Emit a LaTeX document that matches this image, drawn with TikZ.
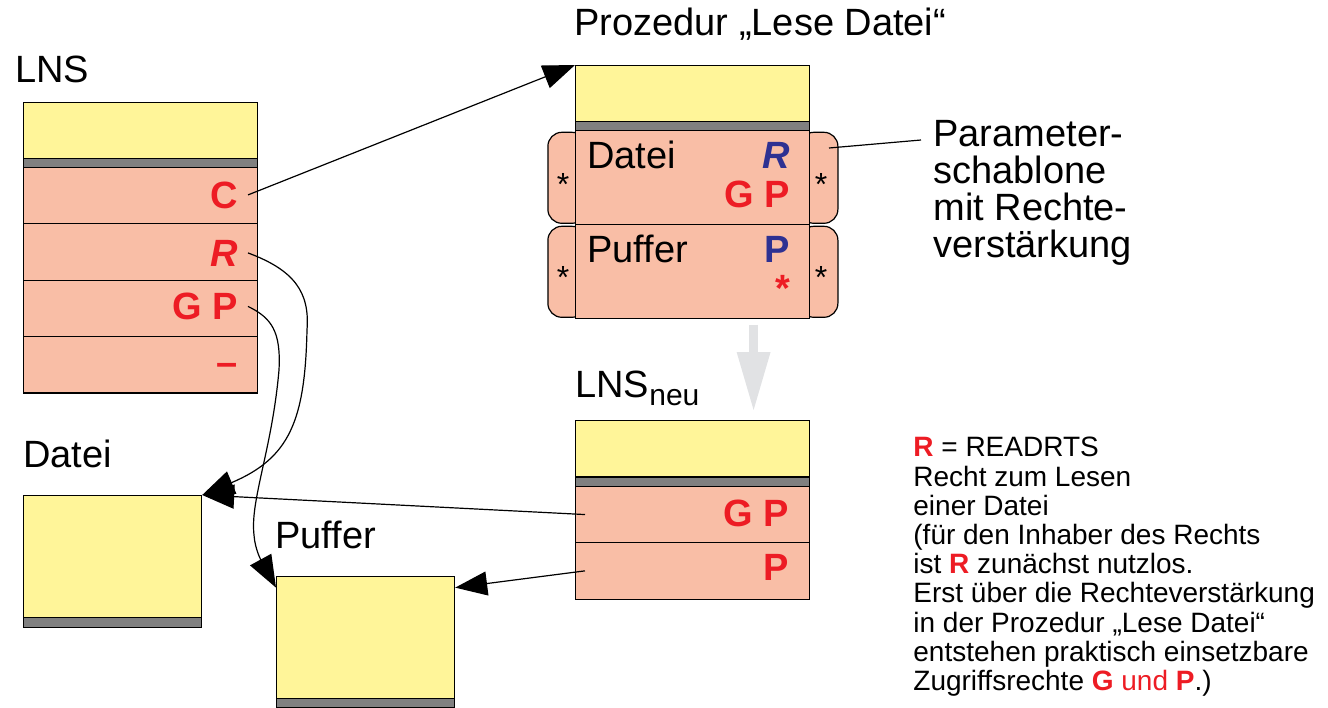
\documentclass[tikz,border=0pt]{standalone}
\usepackage{fontspec}
\setmainfont{Liberation Sans}
\usetikzlibrary{arrows.meta}

\definecolor{memyel}{HTML}{FFF599}
\definecolor{slotred}{HTML}{F9BEA6}
\definecolor{bargray}{HTML}{808080}
\definecolor{rightred}{HTML}{ED1C24}
\definecolor{rightblue}{HTML}{2E3192}
\definecolor{flowgray}{HTML}{E1E2E4}

\begin{document}
\begin{tikzpicture}[x=0.5pt,y=-0.5pt,
  box/.style={draw,line width=0.6pt,inner sep=0,anchor=north west,minimum width=117pt},
  mem/.style={box,fill=memyel,minimum height=28pt},
  bar/.style={box,fill=bargray,minimum height=4.5pt},
  slot/.style={box,fill=slotred,minimum height=28.25pt},
  tabbox/.style={draw,line width=0.6pt,fill=slotred,rounded corners=7pt,inner sep=0,anchor=north west,minimum width=19pt,minimum height=45.5pt},
  lab/.style={font=\fontsize{19}{22}\selectfont,anchor=base west,inner sep=0},
  rt/.style={font=\fontsize{19}{22}\selectfont\bfseries,text=rightred,anchor=base east,inner sep=0},
  ast/.style={font=\fontsize{16}{18}\selectfont,anchor=base,inner sep=0},
  ptr/.style={draw,line width=0.6pt,-{Triangle[length=16pt,width=12pt]}},
]
\useasboundingbox (0,0) rectangle (1328,707);

% LNS
\node[lab] (lnsLab) at (15,82) {LNS};
\node[mem] (lnsTop) at (23,101.7) {};
\node[bar] (lnsBar) at (23,157.7) {};
\node[slot] (lnsC) at (23,166.7) {};
\node[slot] (lnsR) at (23,223.2) {};
\node[slot] (lnsGP) at (23,279.5) {};
\node[slot] (lnsNil) at (23,335.8) {};
\node[rt] (cC) at (238,208) {C};
\node[rt] (cR) at (238,266) {\itshape R};
\node[rt] (cGP) at (238,319.5) {G P};
\node[rt] (cNil) at (238,375) {--};

% Datei, Puffer
\node[lab] (dateiLab) at (23,467) {Datei};
\node[mem,minimum width=89pt,minimum height=61pt] (datei) at (23,495) {};
\node[bar,minimum width=89pt,minimum height=5pt] (dateiBar) at (23,616.7) {};
\node[lab] (pufferLab) at (275,548) {Puffer};
\node[mem,minimum width=89pt,minimum height=61pt] (puffer) at (276,575.7) {};
\node[bar,minimum width=89pt] (pufferBar) at (276,697.7) {};

% Prozedur
\node[lab] (procLab) at (574,35) {Prozedur „Lese Datei“};
\node[mem] (procTop) at (575,65) {};
\node[bar] (procBar) at (575,121) {};
\node[tabbox] (tabL1) at (547.3,131.7) {};
\node[tabbox] (tabR1) at (799.3,131.7) {};
\node[tabbox] (tabL2) at (547.3,225.7) {};
\node[tabbox] (tabR2) at (799.3,225.7) {};
\node[slot,minimum height=47pt] (procDatei) at (575,130) {};
\node[slot,minimum height=47pt] (procPuffer) at (575,224) {};
\node[lab] (pDatei) at (587,168) {Datei};
\node[rt,text=rightblue] (pR) at (790,168) {\itshape R};
\node[rt] (pGP) at (790,207) {G P};
\node[lab] (pPuffer) at (587,262) {Puffer};
\node[rt,text=rightblue] (pP) at (790,262) {P};
\node[rt,anchor=base] (pStar) at (783,301.8) {*};
\node[ast] (sL1) at (563,195) {*};
\node[ast] (sR1) at (821,195) {*};
\node[ast] (sL2) at (563,288) {*};
\node[ast] (sR2) at (821,288) {*};

% LNS neu
\node[lab] (neuLab) at (575,397) {LNS\raisebox{-4pt}{\fontsize{15}{18}\selectfont neu}};
\node[mem] (neuTop) at (575,420) {};
\node[bar] (neuBar) at (575,476.7) {};
\node[slot] (neuGP) at (575,485.7) {};
\node[slot] (neuP) at (575,542) {};
\node[rt] (nGP) at (789,526) {G P};
\node[rt] (nP) at (789,580) {P};

% Texte rechts
\node[lab,anchor=north west,align=left,font=\fontsize{19}{18.5}\selectfont] (param) at (933,120) {Parameter-\\schablone\\mit Rechte-\\verstärkung};
\coordinate (lead) at (829,148);
\draw[line width=0.6pt] (lead) -- ([shift={(-6pt,-10pt)}]param.north west);
\node[anchor=north west,align=left,inner sep=0,font=\fontsize{14}{14.6}\selectfont] (legend) at (913,437) {\textcolor{rightred}{\bfseries R} = READRTS\\Recht zum Lesen\\einer Datei\\(für den Inhaber des Rechts\\ist \textcolor{rightred}{\bfseries R} zunächst nutzlos.\\Erst über die Rechteverstärkung\\in der Prozedur „Lese Datei“\\entstehen praktisch einsetzbare\\Zugriffsrechte \textcolor{rightred}{\bfseries G} \textcolor{rightred}{und} \textcolor{rightred}{\bfseries P}.)};

% Pfeile
\draw[flowgray,line width=4.5pt,-{Triangle[length=29pt,width=17pt,line width=0pt]}] ([xshift=30.5pt,yshift=-2.65pt]procPuffer.south) -- ([xshift=30.5pt,yshift=5pt]neuTop.north);
\draw[ptr] ([xshift=5pt]cC.east) -- (procTop.north west);
\draw[ptr] ([xshift=5pt]cR.east) .. controls (294,270) and (310,292) .. (307,330) .. controls (305,420) and (290,458) .. (datei.north east);
\draw[ptr] ([xshift=5pt]cGP.east) .. controls (272,318) and (281,332) .. (279,370) .. controls (272,450) and (250,500) .. (254,535) .. controls (255,550) and (262,562) .. (puffer.151);
\draw[ptr] ([xshift=5pt]neuGP.west) -- (datei.north east);
\draw[ptr] ([xshift=5pt]neuP.west) -- (puffer.29);
\end{tikzpicture}
\end{document}
